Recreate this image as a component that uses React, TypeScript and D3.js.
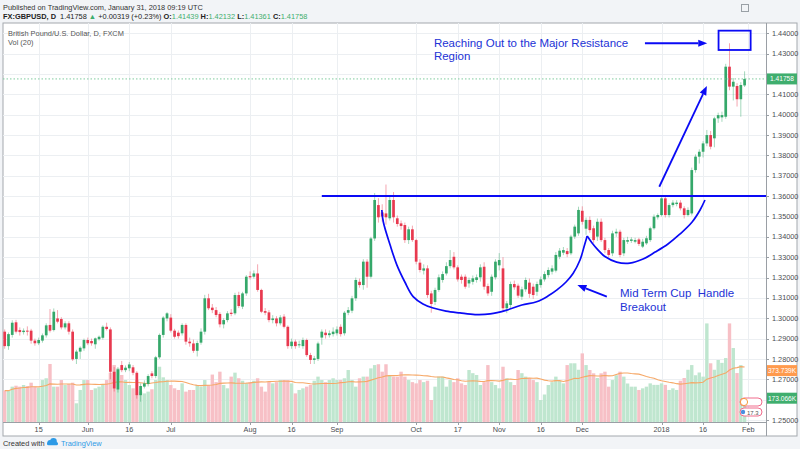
import React, { useEffect, useRef } from "react";
import * as d3 from "d3";

const width = 800;
const height = 449;
const plotLeft = 3;
const plotRight = 766;
const plotTop = 23;
const plotBottom = 422;
const frameRight = 797;
const frameBottom = 436;

// daily bars, weekdays only
const firstDay = "2017-05-02";
const lastDay = "2018-01-31";

const opens = [
  1.2934, 1.2863, 1.2918, 1.298, 1.2942, 1.2932, 1.2939, 1.2939, 1.289, 1.2877,
  1.289, 1.2916, 1.2967, 1.2942, 1.2999, 1.2996, 1.2955, 1.2975, 1.2934, 1.28,
  1.2836, 1.2852, 1.2893, 1.2888, 1.2872, 1.2897, 1.2904, 1.2958, 1.2945, 1.2737,
  1.265, 1.277, 1.2745, 1.2754, 1.2759, 1.2732, 1.2622, 1.2664, 1.2677, 1.2729,
  1.2716, 1.2808, 1.2918, 1.2999, 1.3003, 1.2939, 1.2929, 1.2926, 1.2967, 1.2885,
  1.2876, 1.284, 1.288, 1.2934, 1.3098, 1.3052, 1.304, 1.3021, 1.297, 1.2991,
  1.3027, 1.3024, 1.3114, 1.3057, 1.3122, 1.3207, 1.3204, 1.322, 1.3139, 1.3035,
  1.3029, 1.2991, 1.2999, 1.2975, 1.3008, 1.2958, 1.2863, 1.2885, 1.2867, 1.2863,
  1.2893, 1.2819, 1.2795, 1.28, 1.2905, 1.2929, 1.2917, 1.2922, 1.2926, 1.2958,
  1.2926, 1.3027, 1.3037, 1.3098, 1.3179, 1.3163, 1.3278, 1.3204, 1.3392, 1.3556,
  1.352, 1.3515, 1.3491, 1.3581, 1.3491, 1.3466, 1.3458, 1.3384, 1.3437, 1.3384,
  1.3273, 1.3234, 1.3245, 1.3122, 1.308, 1.3139, 1.3188, 1.322, 1.3256, 1.3302,
  1.325, 1.3204, 1.3204, 1.3171, 1.3179, 1.3188, 1.3201, 1.3253, 1.3158, 1.313,
  1.3201, 1.326, 1.3245, 1.3049, 1.3065, 1.3168, 1.316, 1.3106, 1.3142, 1.3175,
  1.3155, 1.313, 1.3163, 1.3191, 1.3212, 1.3229, 1.3234, 1.3302, 1.3322, 1.333,
  1.3319, 1.3401, 1.3417, 1.3528, 1.344, 1.3483, 1.3442, 1.3401, 1.3474, 1.3384,
  1.3335, 1.3319, 1.3417, 1.3425, 1.3319, 1.3376, 1.338, 1.3376, 1.3387, 1.3352,
  1.3368, 1.3384, 1.3442, 1.3496, 1.3507, 1.3589, 1.3507, 1.3556, 1.3561, 1.3568,
  1.354, 1.3507, 1.3515, 1.3728, 1.3794, 1.3818, 1.3859, 1.39, 1.3884, 1.3982,
  1.3987, 1.399, 1.4236, 1.4138, 1.4141, 1.4076, 1.41439,
];
const highs = [
  1.2945, 1.293, 1.299, 1.2992, 1.2955, 1.295, 1.296, 1.2948, 1.29, 1.2905,
  1.2925, 1.2975, 1.3045, 1.3048, 1.304, 1.3005, 1.2985, 1.2985, 1.2945, 1.2845,
  1.2862, 1.29, 1.2905, 1.29, 1.2905, 1.2915, 1.2965, 1.2978, 1.2955, 1.276,
  1.276, 1.279, 1.2768, 1.2785, 1.277, 1.274, 1.268, 1.2695, 1.2725, 1.274,
  1.2815, 1.2925, 1.301, 1.303, 1.302, 1.2948, 1.294, 1.2975, 1.2975, 1.2905,
  1.2895, 1.289, 1.295, 1.3115, 1.312, 1.307, 1.3055, 1.303, 1.3, 1.3035,
  1.3045, 1.3125, 1.313, 1.313, 1.3212, 1.323, 1.3235, 1.3265, 1.3145, 1.305,
  1.304, 1.3015, 1.301, 1.3015, 1.302, 1.2965, 1.29, 1.2895, 1.289, 1.2905,
  1.29, 1.283, 1.2815, 1.2885, 1.2945, 1.2945, 1.294, 1.2955, 1.296, 1.297,
  1.3035, 1.3055, 1.311, 1.32, 1.3195, 1.329, 1.329, 1.34, 1.3615, 1.359,
  1.356, 1.3657, 1.36, 1.362, 1.3505, 1.348, 1.347, 1.345, 1.3455, 1.339,
  1.329, 1.3265, 1.326, 1.3135, 1.315, 1.3215, 1.323, 1.3275, 1.3335, 1.3325,
  1.326, 1.3215, 1.3215, 1.32, 1.321, 1.3215, 1.3265, 1.3275, 1.317, 1.3215,
  1.329, 1.332, 1.33, 1.3085, 1.318, 1.3185, 1.317, 1.3155, 1.32, 1.3195,
  1.317, 1.318, 1.3205, 1.323, 1.325, 1.326, 1.3325, 1.3345, 1.335, 1.3345,
  1.341, 1.346, 1.3548, 1.355, 1.3495, 1.35, 1.3455, 1.349, 1.349, 1.3395,
  1.3345, 1.343, 1.344, 1.3435, 1.3395, 1.34, 1.3398, 1.3395, 1.3395, 1.339,
  1.3405, 1.345, 1.351, 1.3515, 1.3595, 1.3605, 1.3565, 1.358, 1.358, 1.358,
  1.355, 1.3545, 1.374, 1.3805, 1.383, 1.387, 1.3925, 1.392, 1.399, 1.401,
  1.4015, 1.425, 1.4351, 1.418, 1.4155, 1.416, 1.42132,
];
const lows = [
  1.285, 1.2845, 1.2905, 1.2925, 1.2915, 1.292, 1.2915, 1.2875, 1.2865, 1.2868,
  1.288, 1.2905, 1.293, 1.2935, 1.2975, 1.2945, 1.2945, 1.292, 1.279, 1.2775,
  1.28, 1.284, 1.2868, 1.2865, 1.285, 1.289, 1.2895, 1.294, 1.27, 1.264,
  1.2635, 1.2735, 1.2735, 1.274, 1.272, 1.2605, 1.259, 1.2655, 1.2665, 1.2705,
  1.2705, 1.28, 1.2905, 1.2985, 1.293, 1.29, 1.29, 1.2915, 1.287, 1.286,
  1.283, 1.2812, 1.287, 1.292, 1.304, 1.3025, 1.3005, 1.2955, 1.295, 1.298,
  1.301, 1.3015, 1.305, 1.3045, 1.311, 1.319, 1.3195, 1.313, 1.3025, 1.3015,
  1.298, 1.2975, 1.296, 1.2965, 1.295, 1.285, 1.285, 1.285, 1.2855, 1.285,
  1.281, 1.2775, 1.2775, 1.279, 1.287, 1.29, 1.2905, 1.291, 1.2915, 1.291,
  1.2915, 1.3015, 1.3025, 1.3085, 1.315, 1.314, 1.315, 1.3195, 1.338, 1.347,
  1.3475, 1.346, 1.348, 1.347, 1.345, 1.3435, 1.337, 1.3365, 1.3375, 1.3265,
  1.3225, 1.3215, 1.31, 1.3027, 1.3065, 1.313, 1.3175, 1.321, 1.3245, 1.324,
  1.318, 1.317, 1.3145, 1.315, 1.3165, 1.3175, 1.318, 1.314, 1.311, 1.311,
  1.319, 1.3235, 1.3035, 1.3025, 1.305, 1.314, 1.31, 1.309, 1.313, 1.31,
  1.3095, 1.311, 1.315, 1.318, 1.32, 1.3215, 1.3225, 1.329, 1.331, 1.33,
  1.331, 1.339, 1.3405, 1.346, 1.341, 1.342, 1.337, 1.338, 1.3375, 1.332,
  1.33, 1.3305, 1.34, 1.33, 1.3305, 1.3365, 1.337, 1.3368, 1.3355, 1.3345,
  1.336, 1.3375, 1.3435, 1.3485, 1.35, 1.3495, 1.3495, 1.3545, 1.355, 1.353,
  1.349, 1.35, 1.3505, 1.3715, 1.376, 1.379, 1.3845, 1.383, 1.384, 1.396,
  1.3965, 1.398, 1.412, 1.407, 1.404, 1.399, 1.41361,
];
const closes = [
  1.2863, 1.2922, 1.2978, 1.2934, 1.2932, 1.2939, 1.2935, 1.289, 1.2877, 1.2893,
  1.2916, 1.2965, 1.2939, 1.3032, 1.2983, 1.2955, 1.2975, 1.2934, 1.2798, 1.2836,
  1.2855, 1.2893, 1.2877, 1.2877, 1.2901, 1.2909, 1.2958, 1.2947, 1.2737, 1.2655,
  1.2749, 1.2745, 1.2757, 1.2773, 1.2732, 1.2622, 1.2667, 1.268, 1.2716, 1.2716,
  1.2808, 1.2918, 1.3003, 1.3024, 1.2939, 1.2909, 1.2912, 1.2967, 1.2885, 1.2877,
  1.284, 1.2878, 1.2934, 1.3098, 1.3049, 1.304, 1.3016, 1.297, 1.2991, 1.3024,
  1.3021, 1.3114, 1.306, 1.3122, 1.3204, 1.3201, 1.322, 1.3139, 1.3032, 1.3027,
  1.2991, 1.2999, 1.2975, 1.3004, 1.2958, 1.2863, 1.2885, 1.2863, 1.2872, 1.2893,
  1.2819, 1.2795, 1.2803, 1.2876, 1.2934, 1.2917, 1.2926, 1.2934, 1.2945, 1.2922,
  1.3027, 1.304, 1.3098, 1.3188, 1.3163, 1.3278, 1.3204, 1.3392, 1.3581, 1.3496,
  1.35, 1.3496, 1.3581, 1.3496, 1.3463, 1.3453, 1.3384, 1.3437, 1.3384, 1.3278,
  1.3237, 1.3245, 1.3114, 1.307, 1.3139, 1.3201, 1.3217, 1.3256, 1.3286, 1.325,
  1.3191, 1.3188, 1.3155, 1.3188, 1.3196, 1.3201, 1.325, 1.3155, 1.3122, 1.3204,
  1.3278, 1.3286, 1.3049, 1.3073, 1.3168, 1.3152, 1.3111, 1.3142, 1.3188, 1.312,
  1.3114, 1.3168, 1.3191, 1.3217, 1.3237, 1.3245, 1.3311, 1.3332, 1.3335, 1.3315,
  1.3401, 1.345, 1.3532, 1.3474, 1.3483, 1.3433, 1.3384, 1.3474, 1.3384, 1.3335,
  1.3311, 1.3417, 1.3425, 1.3311, 1.3384, 1.3384, 1.3387, 1.3384, 1.3365, 1.3376,
  1.3393, 1.3442, 1.3499, 1.3507, 1.3589, 1.3507, 1.3556, 1.3568, 1.3568, 1.354,
  1.3507, 1.3532, 1.3728, 1.3794, 1.3818, 1.3859, 1.39, 1.3843, 1.3982, 1.3998,
  1.3998, 1.4236, 1.4138, 1.4162, 1.4076, 1.4146, 1.41758,
];
// volume in thousands
const volumes = [
  228, 228, 257, 264, 257, 269, 262, 286, 257, 250,
  305, 318, 422, 257, 257, 305, 269, 276, 286, 136,
  233, 305, 305, 233, 245, 257, 269, 305, 359, 414,
  390, 342, 305, 269, 245, 305, 221, 208, 221, 238,
  305, 402, 325, 305, 269, 245, 233, 281, 221, 233,
  233, 269, 257, 305, 269, 345, 290, 366, 269, 245,
  330, 359, 318, 300, 281, 290, 300, 318, 257, 221,
  290, 281, 290, 305, 305, 305, 281, 208, 233, 245,
  257, 269, 300, 330, 305, 290, 305, 318, 305, 305,
  318, 378, 305, 257, 318, 330, 330, 390, 414, 420,
  366, 420, 342, 330, 330, 366, 330, 305, 290, 281,
  305, 290, 300, 160, 257, 330, 330, 257, 305, 290,
  318, 281, 269, 378, 355, 342, 269, 290, 414, 290,
  269, 245, 402, 318, 290, 269, 378, 355, 330, 318,
  305, 290, 160, 200, 269, 290, 330, 300, 281, 414,
  427, 427, 380, 499, 414, 378, 354, 320, 354, 366,
  257, 305, 340, 366, 330, 280, 257, 257, 233, 245,
  257, 281, 270, 270, 281, 270, 233, 245, 233, 300,
  320, 380, 414, 340, 360, 330, 717, 427, 380, 451,
  430, 465, 717, 538, 356, 414, 173,
];

const xTickDates = [
  "2017-05-15", "2017-06-01", "2017-06-16", "2017-07-03", "2017-08-01",
  "2017-08-16", "2017-09-01", "2017-10-02", "2017-10-17", "2017-11-01",
  "2017-11-16", "2017-12-01", "2018-01-01", "2018-01-16", "2018-02-01",
];
const xTickLabels = [
  "15", "Jun", "16", "Jul", "Aug", "16", "Sep", "Oct", "17", "Nov", "16", "Dec", "2018", "16", "Feb",
];

// annotations, placed in (bar index, price)
const resistanceLevel = 1.36;
const resistanceFrom = 84;
const cupIdx = [99.9, 100.3, 102.1, 103.9, 106, 108.2, 110.8, 113.5, 116.9, 120.6, 124.6, 128.6, 133, 137, 140.9, 143.9, 146.3, 148.7, 150.6, 152.4, 153.6, 154.3];
const cupPrice = [1.3532, 1.3473, 1.336, 1.3261, 1.3178, 1.3106, 1.307, 1.305, 1.3035, 1.3026, 1.3018, 1.3021, 1.304, 1.3065, 1.3081, 1.3109, 1.3139, 1.3178, 1.3221, 1.3286, 1.336, 1.3404];
const handleIdx = [154.3, 155.6, 157.2, 159, 162.1, 165.6, 169.1, 172.3, 175.7, 178.9, 182.1, 184.2, 185.5];
const handlePrice = [1.3404, 1.337, 1.3335, 1.3303, 1.3276, 1.3271, 1.3291, 1.3325, 1.3365, 1.3414, 1.3473, 1.3532, 1.3581];
const arrows = [
  { from: [169.6, 1.4351], to: [186.1, 1.4351] },
  { from: [173.4, 1.3646], to: [186.0, 1.4141] },
  { from: [159.5, 1.3106], to: [151.7, 1.3163] },
];
const targetBox = { i0: 189.1, i1: 197.6, p0: 1.4413, p1: 1.4318 };
const notes = [
  { i: 113.7, p: 1.4335, text: "Reaching Out to the Major Resistance" },
  { i: 113.7, p: 1.4269, text: "Region" },
  { i: 163.0, p: 1.3102, text: "Mid Term Cup  Handle" },
  { i: 163.0, p: 1.3038, text: "Breakout" },
];

const upColor = "#35a86a";
const downColor = "#e8394f";
const blue = "#0a0af5";
const font = "'Liberation Sans', Arial, sans-serif";

const App = () => {
  const svgRef = useRef<SVGSVGElement>(null);

  useEffect(() => {
    const svg = d3.select(svgRef.current);
    svg.selectAll("*").remove();

    const days = d3
      .utcDay.range(new Date(firstDay + "T00:00Z"), d3.utcDay.offset(new Date(lastDay + "T00:00Z"), 1))
      .filter((d) => d.getUTCDay() !== 0 && d.getUTCDay() !== 6);
    const bars = days.map((date, i) => ({
      i,
      date,
      o: opens[i],
      h: highs[i],
      l: lows[i],
      c: closes[i],
      v: volumes[i],
    }));

    const x = d3.scaleLinear().domain([0, bars.length - 1]).range([4.7, 744.6]);
    const y = d3.scaleLinear().domain([1.25, 1.44]).range([420, 33.3]);
    const yVol = d3.scaleLinear().domain([0, 800]).range([plotBottom, 312]);

    // background + frame
    svg.append("rect").attr("width", width).attr("height", height).attr("fill", "#f2f4f7");
    svg
      .append("rect")
      .attr("x", plotLeft)
      .attr("y", plotTop)
      .attr("width", frameRight - plotLeft)
      .attr("height", frameBottom - plotTop)
      .attr("fill", "#fff")
      .attr("stroke", "#a3a8ae");

    svg
      .append("defs")
      .append("clipPath")
      .attr("id", "plot-clip")
      .append("rect")
      .attr("x", plotLeft)
      .attr("y", plotTop)
      .attr("width", plotRight - plotLeft)
      .attr("height", plotBottom - plotTop);

    const plot = svg.append("g").attr("clip-path", "url(#plot-clip)");

    // grid
    const priceTicks = y.ticks(19);
    plot
      .selectAll(".hgrid")
      .data(priceTicks)
      .join("line")
      .attr("x1", plotLeft)
      .attr("x2", plotRight)
      .attr("y1", (d) => Math.round(y(d)) + 0.5)
      .attr("y2", (d) => Math.round(y(d)) + 0.5)
      .attr("stroke", "#eceff2");

    const dayNums = days.map((d) => +d);
    const tickX = xTickDates.map((s) => x(d3.bisectLeft(dayNums, +new Date(s + "T00:00Z"))));
    plot
      .selectAll(".vgrid")
      .data(tickX)
      .join("line")
      .attr("x1", (d) => Math.round(d) + 0.5)
      .attr("x2", (d) => Math.round(d) + 0.5)
      .attr("y1", plotTop)
      .attr("y2", plotBottom)
      .attr("stroke", "#eceff2");

    // volume
    plot
      .selectAll(".vol")
      .data(bars)
      .join("rect")
      .attr("x", (d) => x(d.i) - 1.7)
      .attr("width", 3.4)
      .attr("y", (d) => yVol(d.v))
      .attr("height", (d) => plotBottom - yVol(d.v))
      .attr("fill", (d) => (d.c >= d.o ? "#bfe6cf" : "#f7c0c6"));

    const volMa = bars.map((d) => d3.mean(volumes.slice(Math.max(0, d.i - 19), d.i + 1)) as number);
    plot
      .append("path")
      .datum(volMa)
      .attr("fill", "none")
      .attr("stroke", "#f6a867")
      .attr("stroke-width", 1.1)
      .attr(
        "d",
        d3
          .line<number>()
          .x((_, i) => x(i))
          .y((d) => yVol(d))
      );

    // candles
    const candle = plot.selectAll(".candle").data(bars).join("g");
    candle
      .append("line")
      .attr("x1", (d) => x(d.i))
      .attr("x2", (d) => x(d.i))
      .attr("y1", (d) => y(d.h))
      .attr("y2", (d) => y(d.l))
      .attr("stroke", (d) => (d.c >= d.o ? upColor : downColor))
      .attr("stroke-opacity", 0.45)
      .attr("stroke-width", 1);
    candle
      .append("rect")
      .attr("x", (d) => x(d.i) - 1.35)
      .attr("width", 2.7)
      .attr("y", (d) => y(Math.max(d.o, d.c)))
      .attr("height", (d) => Math.max(1, Math.abs(y(d.o) - y(d.c))))
      .attr("fill", (d) => (d.c >= d.o ? upColor : downColor));

    // last price line
    const last = bars[bars.length - 1];
    plot
      .append("line")
      .attr("x1", plotLeft)
      .attr("x2", plotRight)
      .attr("y1", y(last.c))
      .attr("y2", y(last.c))
      .attr("stroke", "#7fcb9e")
      .attr("stroke-dasharray", "1.5,2");

    // annotations
    const ann = svg.append("g").attr("clip-path", "url(#plot-clip)");
    ann
      .append("line")
      .attr("x1", x(resistanceFrom))
      .attr("x2", plotRight)
      .attr("y1", y(resistanceLevel))
      .attr("y2", y(resistanceLevel))
      .attr("stroke", blue)
      .attr("stroke-width", 2);

    const curve = d3
      .line<number>()
      .x((d) => x(d))
      .curve(d3.curveCatmullRom);
    ann
      .append("path")
      .attr("fill", "none")
      .attr("stroke", blue)
      .attr("stroke-width", 1.7)
      .attr("d", curve.y((_, k) => y(cupPrice[k]))(cupIdx));
    ann
      .append("path")
      .attr("fill", "none")
      .attr("stroke", blue)
      .attr("stroke-width", 1.7)
      .attr("d", curve.y((_, k) => y(handlePrice[k]))(handleIdx));

    arrows.forEach((a) => {
      const x1 = x(a.from[0]);
      const y1 = y(a.from[1]);
      const x2 = x(a.to[0]);
      const y2 = y(a.to[1]);
      const ang = Math.atan2(y2 - y1, x2 - x1);
      const len = 9;
      const half = 3.6;
      const bx = x2 - len * Math.cos(ang);
      const by = y2 - len * Math.sin(ang);
      ann
        .append("line")
        .attr("x1", x1)
        .attr("y1", y1)
        .attr("x2", bx)
        .attr("y2", by)
        .attr("stroke", blue)
        .attr("stroke-width", 1.8);
      ann
        .append("path")
        .attr(
          "d",
          `M${x2},${y2}L${bx + half * Math.sin(ang)},${by - half * Math.cos(ang)}L${bx - half * Math.sin(ang)},${by + half * Math.cos(ang)}Z`
        )
        .attr("fill", blue);
    });

    ann
      .append("rect")
      .attr("x", x(targetBox.i0))
      .attr("y", y(targetBox.p0))
      .attr("width", x(targetBox.i1) - x(targetBox.i0))
      .attr("height", y(targetBox.p1) - y(targetBox.p0))
      .attr("fill", "none")
      .attr("stroke", blue)
      .attr("stroke-width", 1.8);

    ann
      .selectAll(".note")
      .data(notes)
      .join("text")
      .attr("x", (d) => x(d.i))
      .attr("y", (d) => y(d.p))
      .attr("font-family", font)
      .attr("font-size", 11.5)
      .attr("fill", "#2232d6")
      .style("white-space", "pre")
      .text((d) => d.text);

    // axis separators
    svg
      .append("line")
      .attr("x1", plotRight + 0.5)
      .attr("x2", plotRight + 0.5)
      .attr("y1", plotTop)
      .attr("y2", frameBottom)
      .attr("stroke", "#9a9fa5");
    svg
      .append("line")
      .attr("x1", plotLeft)
      .attr("x2", plotRight)
      .attr("y1", plotBottom + 0.5)
      .attr("y2", plotBottom + 0.5)
      .attr("stroke", "#9a9fa5");

    // value tags on the price axis
    const tags = [
      { yy: y(last.c), text: "1.41758", fill: "#3fae6e" },
      { yy: yVol(373.739), text: "373.739K", fill: "#ff9a4d" },
      { yy: yVol(173.066), text: "173.066K", fill: "#3fae6e" },
    ];

    // price axis (labels under a tag are covered, as in the original)
    const shownTicks = priceTicks.filter((t) => tags.every((g) => Math.abs(y(t) - g.yy) > 8));
    const yAxis = svg.append("g");
    yAxis
      .selectAll("line")
      .data(priceTicks)
      .join("line")
      .attr("x1", plotRight)
      .attr("x2", plotRight + 3)
      .attr("y1", (d) => Math.round(y(d)) + 0.5)
      .attr("y2", (d) => Math.round(y(d)) + 0.5)
      .attr("stroke", "#9a9fa5");
    yAxis
      .selectAll("text")
      .data(shownTicks)
      .join("text")
      .attr("x", plotRight + 6)
      .attr("y", (d) => y(d) + 2.6)
      .attr("font-family", font)
      .attr("font-size", 7.3)
      .attr("fill", "#4a4d52")
      .text((d) => d3.format(".5f")(d));

    // time axis
    const xAxis = svg.append("g");
    xAxis
      .selectAll("line")
      .data(tickX)
      .join("line")
      .attr("x1", (d) => Math.round(d) + 0.5)
      .attr("x2", (d) => Math.round(d) + 0.5)
      .attr("y1", plotBottom)
      .attr("y2", plotBottom + 3)
      .attr("stroke", "#9a9fa5");
    xAxis
      .selectAll("text")
      .data(xTickLabels)
      .join("text")
      .attr("x", (_, k) => tickX[k])
      .attr("y", 432)
      .attr("text-anchor", "middle")
      .attr("font-family", font)
      .attr("font-size", 7.3)
      .attr("fill", "#4a4d52")
      .text((d) => d);

    const tag = svg.selectAll(".tag").data(tags).join("g");
    tag
      .append("rect")
      .attr("x", plotRight + 1)
      .attr("y", (d) => d.yy - 5.5)
      .attr("width", frameRight - plotRight - 1)
      .attr("height", 11)
      .attr("fill", (d) => d.fill);
    tag
      .append("text")
      .attr("x", (plotRight + frameRight) / 2 + 0.5)
      .attr("y", (d) => d.yy + 2.5)
      .attr("text-anchor", "middle")
      .attr("font-family", font)
      .attr("font-size", 6.6)
      .attr("fill", "#fff")
      .text((d) => d.text);

    // event badges near the last bar
    const badges = svg.append("g");
    badges
      .append("rect")
      .attr("x", 740)
      .attr("y", 398)
      .attr("width", 22)
      .attr("height", 8)
      .attr("rx", 4)
      .attr("fill", "#fff")
      .attr("stroke", "#f06c8c");
    badges
      .append("circle")
      .attr("cx", 744)
      .attr("cy", 402)
      .attr("r", 3.6)
      .attr("fill", "#fff")
      .attr("stroke", "#f59a3c");
    badges
      .append("rect")
      .attr("x", 740)
      .attr("y", 408)
      .attr("width", 22)
      .attr("height", 8)
      .attr("rx", 4)
      .attr("fill", "#fff")
      .attr("stroke", "#f06c8c");
    badges
      .append("text")
      .attr("x", 747)
      .attr("y", 414.5)
      .attr("font-family", font)
      .attr("font-size", 6)
      .attr("fill", "#555")
      .text("17.3");
    badges
      .append("circle")
      .attr("cx", 743)
      .attr("cy", 412)
      .attr("r", 2.2)
      .attr("fill", "#4a8fe0");

    // header
    const head = svg.append("g").attr("font-family", font).attr("font-size", 7.4);
    head.append("text").attr("x", 3).attr("y", 9.5).attr("fill", "#333").text("Published on TradingView.com, January 31, 2018 09:19 UTC");
    const line2 = head.append("text").attr("x", 3).attr("y", 19.3).attr("fill", "#222").style("white-space", "pre");
    const parts: [string, string, boolean][] = [
      ["FX:GBPUSD, D", "#222", true],
      ["  1.41758 ", "#222", false],
      ["▲", "#3fae6e", false],
      [" +0.00319 (+0.23%) ", "#222", false],
      ["O:", "#222", true],
      ["1.41439", "#3fae6e", false],
      [" H:", "#222", true],
      ["1.42132", "#3fae6e", false],
      [" L:", "#222", true],
      ["1.41361", "#3fae6e", false],
      [" C:", "#222", true],
      ["1.41758", "#3fae6e", false],
    ];
    parts.forEach(([t, c, b]) => {
      line2.append("tspan").attr("fill", c).attr("font-weight", b ? "bold" : "normal").text(t);
    });
    svg
      .append("rect")
      .attr("x", 741.5)
      .attr("y", 4.5)
      .attr("width", 7)
      .attr("height", 7)
      .attr("fill", "none")
      .attr("stroke", "#9aa0a6");

    const legend = svg.append("g").attr("font-family", font).attr("font-size", 7.4).attr("fill", "#555");
    legend.append("text").attr("x", 8).attr("y", 35.5).text("British Pound/U.S. Dollar, D, FXCM");
    legend.append("text").attr("x", 8).attr("y", 45).text("Vol (20)");

    // footer
    const foot = svg.append("g").attr("font-family", font).attr("font-size", 7.4);
    foot.append("text").attr("x", 3).attr("y", 446).attr("fill", "#333").text("Created with");
    const cloud = foot.append("g").attr("fill", "#2d9ae6");
    cloud.append("circle").attr("cx", 50).attr("cy", 442.5).attr("r", 2.6);
    cloud.append("circle").attr("cx", 53.5).attr("cy", 441.3).attr("r", 3.3);
    cloud.append("rect").attr("x", 47).attr("y", 442).attr("width", 11).attr("height", 3.2).attr("rx", 1.5);
    foot.append("text").attr("x", 61).attr("y", 446).attr("fill", "#2d9ae6").text("TradingView");
  }, []);

  return (
    <svg
      ref={svgRef}
      width={width}
      height={height}
      style={{ position: "absolute", left: 0, top: 0, display: "block" }}
    />
  );
};

export default App;
